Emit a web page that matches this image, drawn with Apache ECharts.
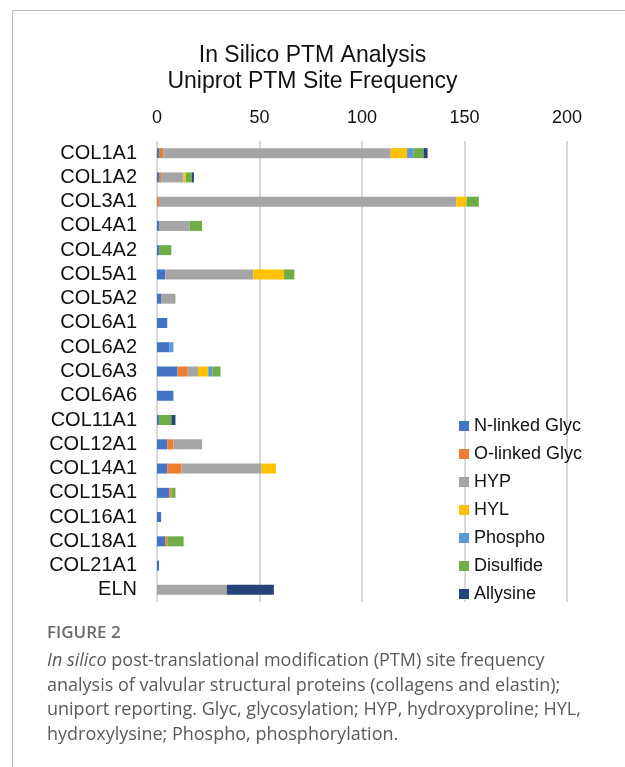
<!DOCTYPE html>
<html>
<head>
<meta charset="utf-8">
<script src="https://cdn.jsdelivr.net/npm/echarts@6/dist/echarts.min.js"></script>
<style>
  html, body { margin: 0; padding: 0; background: #fff; }
  #page { position: relative; width: 625px; height: 767px; overflow: hidden; }
  #frame { position: absolute; left: 12px; top: 10px; right: -5px; bottom: -5px;
    border-left: 1px solid #bdbdbd; border-top: 1px solid #bdbdbd; }
  #chart { position: absolute; left: 0; top: 0; width: 625px; height: 767px; }
  #caption { position: absolute; left: 47px; top: 619px; font-family: "Open Sans", sans-serif;
    color: #5a5a5a; white-space: nowrap; }
  #caption .fig { font-size: 17px; font-weight: 600; color: #6a6a6a; line-height: 26px; margin-bottom: 2px; }
  #caption .txt { font-size: 18px; line-height: 24.5px; }
</style>
</head>
<body>
<div id="page">
  <div id="frame"></div>
  <div id="chart"></div>
  <div id="caption">
    <div class="fig">FIGURE 2</div>
    <div class="txt"><i>In silico</i> post-translational modification (PTM) site frequency<br>analysis of valvular structural proteins (collagens and elastin);<br>uniport reporting. Glyc, glycosylation; HYP, hydroxyproline; HYL,<br>hydroxylysine; Phospho, phosphorylation.</div>
  </div>
</div>
<script>
// 分类 + 各系列数据
var categories = ["COL1A1", "COL1A2", "COL3A1", "COL4A1", "COL4A2", "COL5A1", "COL5A2",
  "COL6A1", "COL6A2", "COL6A3", "COL6A6", "COL11A1", "COL12A1", "COL14A1", "COL15A1",
  "COL16A1", "COL18A1", "COL21A1", "ELN"];
var nLinked   = [1, 1, 0, 1, 1, 4, 2, 5, 6, 10, 8, 1, 5, 5, 6, 2, 4, 1, 0];
var oLinked   = [2, 1, 1, 0, 0, 0, 0, 0, 0, 5, 0, 0, 3, 7, 1, 0, 1, 0, 0];
var hyp       = [111, 11, 145, 15, 0, 43, 7, 0, 0, 5, 0, 0, 14, 39, 0, 0, 0, 0, 34];
var hyl       = [8, 1, 5, 0, 0, 15, 0, 0, 0, 5, 0, 0, 0, 7, 0, 0, 0, 0, 0];
var phospho   = [3, 0, 0, 0, 0, 0, 0, 0, 2, 2, 0, 0, 0, 0, 0, 0, 0, 0, 0];
var disulfide = [5, 3, 6, 6, 6, 5, 0, 0, 0, 4, 0, 6, 0, 0, 2, 0, 8, 0, 0];
var allysine  = [2, 1, 0, 0, 0, 0, 0, 0, 0, 0, 0, 2, 0, 0, 0, 0, 0, 0, 23];
var xTicks = [0, 50, 100, 150, 200];

var seriesList = [
  { name: "N-linked Glyc", data: nLinked, color: "#4472C4" },
  { name: "O-linked Glyc", data: oLinked, color: "#ED7D31" },
  { name: "HYP", data: hyp, color: "#A5A5A5" },
  { name: "HYL", data: hyl, color: "#FFC000" },
  { name: "Phospho", data: phospho, color: "#5B9BD5" },
  { name: "Disulfide", data: disulfide, color: "#70AD47" },
  { name: "Allysine", data: allysine, color: "#264478" }
];

var font = "Liberation Sans, Arial, sans-serif";
var myChart = echarts.init(document.getElementById("chart"), null, { renderer: "canvas" });
myChart.setOption({
  animation: false,
  title: {
    text: "In Silico PTM Analysis\nUniprot PTM Site Frequency",
    left: "center",
    top: 38,
    textStyle: { fontFamily: font, fontSize: 23, fontWeight: "normal", color: "#111", lineHeight: 26 }
  },
  legend: {
    orient: "vertical",
    left: 459,
    top: 417,
    padding: 0,
    itemGap: 10,
    itemWidth: 10,
    itemHeight: 10,
    icon: "rect",
    textStyle: { fontFamily: font, fontSize: 18, color: "#111" },
    data: seriesList.map(function (s) { return s.name; })
  },
  grid: { left: 157, right: 58, top: 141, bottom: 165, containLabel: false },
  xAxis: {
    type: "value",
    position: "top",
    min: xTicks[0],
    max: xTicks[xTicks.length - 1],
    interval: 50,
    axisLine: { show: false },
    axisTick: { show: false },
    axisLabel: { fontFamily: font, fontSize: 18, color: "#111", margin: 14 },
    splitLine: { lineStyle: { color: "#d9d9d9", width: 2 } }
  },
  yAxis: {
    type: "category",
    inverse: true,
    data: categories,
    axisLine: { show: false },
    axisTick: { show: false },
    axisLabel: { fontFamily: font, fontSize: 20, color: "#111", margin: 20, interval: 0 }
  },
  series: seriesList.map(function (s) {
    return {
      name: s.name,
      type: "bar",
      stack: "total",
      barWidth: 10,
      itemStyle: { color: s.color },
      data: s.data
    };
  })
});
</script>
</body>
</html>
